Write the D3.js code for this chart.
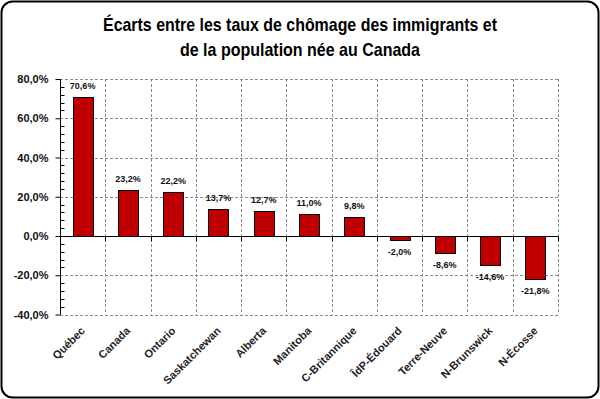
<!DOCTYPE html>
<html>
<head>
<meta charset="utf-8">
<script src="https://cdn.jsdelivr.net/npm/d3@7"></script>
<style>
body { margin: 0; background: #fff; }
</style>
</head>
<body>
<svg id="chart" width="600" height="399"></svg>
<script>
// chart data
const provinces = ["Québec", "Canada", "Ontario", "Saskatchewan", "Alberta", "Manitoba",
    "C-Britannique", "ÎdP-Édouard", "Terre-Neuve", "N-Brunswick", "N-Écosse"];
const ecarts = [70.6, 23.2, 22.2, 13.7, 12.7, 11.0, 9.8, -2.0, -8.6, -14.6, -21.8];
const yTicks = [-40, -20, 0, 20, 40, 60, 80];
const titleLines = ["Écarts entre les taux de chômage des immigrants  et", "de la population  née au Canada"];

const fmt = v => (v < 0 ? "-" : "") + Math.abs(v).toFixed(1).replace(".", ",") + "%";

let svg = d3.select("#chart");
const W = 600, H = 399;
var padding = {top: 79, bottom: 85, left: 60, right: 42};

// frame
svg.append("rect")
    .attr("x", 1.5).attr("y", 1.5)
    .attr("width", W - 3).attr("height", H - 3)
    .attr("rx", 11).attr("ry", 11)
    .style("fill", "#fff").style("stroke", "#000").style("stroke-width", 2);

// title
svg.selectAll("text.title")
    .data(titleLines)
    .enter()
    .append("text")
    .attr("class", "title")
    .attr("x", 300)
    .attr("y", (d, i) => 31 + i * 25)
    .attr("text-anchor", "middle")
    .attr("textLength", (d, i) => i == 0 ? 394 : 240)
    .attr("lengthAdjust", "spacingAndGlyphs")
    .style("font-family", "'Liberation Sans', Arial, sans-serif")
    .style("font-weight", "bold")
    .style("font-size", "18.5px")
    .style("fill", "#000")
    .text(d => d);

var x = d3.scaleBand()
    .domain(provinces)
    .range([padding.left, W - padding.right])
    .paddingInner(0.56)
    .paddingOuter(0.28);

var y = d3.scaleLinear()
    .domain([-40, 80])
    .range([H - padding.bottom + 0.5, padding.top]);

var step = x.step();
var x0 = padding.left, x1 = W - padding.right;

// grid
var grid = svg.append("g").attr("class", "grid");
grid.selectAll("line.h")
    .data(yTicks.filter(d => d != 0))
    .enter().append("line")
    .attr("x1", x0).attr("x2", x1)
    .attr("y1", d => Math.round(y(d)) + 0.5).attr("y2", d => Math.round(y(d)) + 0.5)
    .style("stroke", "#8c8c8c").style("stroke-dasharray", "3,2");
grid.selectAll("line.v")
    .data(provinces)
    .enter().append("line")
    .attr("x1", (d, i) => Math.round(x0 + step * (i + 1)) + 0.5)
    .attr("x2", (d, i) => Math.round(x0 + step * (i + 1)) + 0.5)
    .attr("y1", y(80)).attr("y2", y(-40))
    .style("stroke", "#8c8c8c").style("stroke-dasharray", "3,2");

// bars
svg.selectAll("rect.bar")
    .data(ecarts)
    .enter()
    .append("rect")
    .attr("class", "bar")
    .attr("x", (d, i) => Math.round(x(provinces[i])) + 0.5)
    .attr("y", d => Math.round(y(Math.max(0, d))) + 0.5)
    .attr("width", x.bandwidth())
    .attr("height", d => Math.abs(Math.round(y(d)) - Math.round(y(0))))
    .style("fill", "#c00000")
    .style("stroke", "#000")
    .style("stroke-width", 1);

// zero line + category ticks
var zy = Math.round(y(0)) + 0.5;
svg.append("line")
    .attr("x1", x0).attr("x2", x1)
    .attr("y1", zy).attr("y2", zy)
    .style("stroke", "#000");
svg.selectAll("line.ctick")
    .data(provinces)
    .enter().append("line")
    .attr("x1", (d, i) => Math.round(x0 + step * (i + 1)) + 0.5)
    .attr("x2", (d, i) => Math.round(x0 + step * (i + 1)) + 0.5)
    .attr("y1", zy).attr("y2", zy + 5)
    .style("stroke", "#000");

// y axis
var yAxis = d3.axisLeft(y)
    .tickValues(yTicks)
    .tickSize(5)
    .tickPadding(7)
    .tickFormat(fmt);
var gY = svg.append("g")
    .attr("transform", "translate(" + (x0 + 0.5) + ",0)")
    .call(yAxis);
gY.select(".domain").attr("d", "M0," + y(80) + "V" + y(-40)).style("stroke", "#000");
gY.selectAll(".tick line").style("stroke", "#000");
gY.selectAll(".tick text")
    .style("font-family", "'Liberation Sans', Arial, sans-serif")
    .style("font-weight", "bold")
    .style("font-size", "11px")
    .style("fill", "#111");

// minor ticks
gY.selectAll("line.minor")
    .data(d3.range(-40, 80, 4).filter(d => d % 20 != 0))
    .enter().append("line")
    .attr("x1", 0).attr("x2", 4)
    .attr("y1", d => Math.round(y(d)) + 0.5).attr("y2", d => Math.round(y(d)) + 0.5)
    .style("stroke", "#000");

// value labels
svg.selectAll("text.val")
    .data(ecarts)
    .enter()
    .append("text")
    .attr("class", "val")
    .attr("x", (d, i) => x(provinces[i]) + x.bandwidth() / 2)
    .attr("y", d => d >= 0 ? y(d) - 8 : y(d) + 15)
    .attr("text-anchor", "middle")
    .style("font-family", "'Liberation Sans', Arial, sans-serif")
    .style("font-weight", "bold")
    .style("font-size", "9px")
    .style("fill", "#111")
    .text(fmt);

// category labels
svg.selectAll("text.cat")
    .data(provinces)
    .enter()
    .append("text")
    .attr("class", "cat")
    .attr("text-anchor", "end")
    .attr("transform", d => "translate(" + (x(d) + x.bandwidth() / 2 + 3) + "," + (y(-40) + 17) + ") rotate(-45)")
    .style("font-family", "'Liberation Sans', Arial, sans-serif")
    .style("font-weight", "bold")
    .style("font-size", "11px")
    .style("fill", "#222")
    .text(d => d);
</script>
</body>
</html>
